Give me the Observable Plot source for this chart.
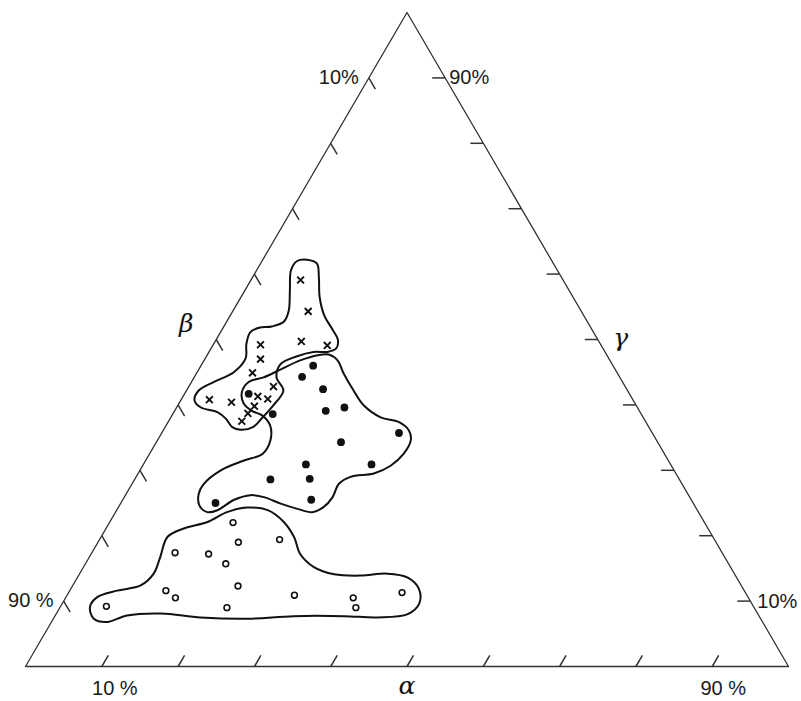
<!DOCTYPE html>
<html><head><meta charset="utf-8">
<script src="https://cdn.jsdelivr.net/npm/d3@7"></script>
<script src="https://cdn.jsdelivr.net/npm/@observablehq/plot@0.6"></script>
<style>html,body{margin:0;padding:0;background:#fff}</style>
</head><body><div id="chart"></div>
<script>
// Ternary components in percent: alpha (bottom-right vertex), gamma (top vertex); beta = 100 - alpha - gamma
const crossAlpha = [6.5, 9.9, 11.3, 15.0, 6.2, 7.3, 7.3, 11.1, 3.7, 6.8, 9.8, 11.3, 10.1, 9.8, 9.6];
const crossGamma = [59.1, 54.3, 49.7, 49.1, 49.2, 47.0, 44.9, 42.8, 40.8, 40.4, 41.3, 40.9, 39.8, 38.7, 37.5];
const dotAlpha = [8.4, 14.7, 14.1, 17.8, 19.8, 22.0, 13.1, 31.1, 24.2, 21.3, 29.9, 17.8, 22.9, 12.4, 24.7];
const dotGamma = [41.7, 46.0, 44.3, 42.4, 39.1, 39.6, 38.6, 35.7, 34.3, 30.9, 30.9, 28.6, 28.7, 25.0, 25.5];
const openAlpha = [16.2, 18.4, 23.6, 10.9, 15.4, 18.4, 21.7, 12.6, 14.4, 6.0, 21.9, 29.8, 37.7, 38.8, 43.7];
const openGamma = [22.0, 19.0, 19.4, 17.4, 17.2, 15.7, 12.3, 11.6, 10.5, 9.2, 9.0, 10.9, 10.5, 9.0, 11.3];

// Enclosing outlines, [alpha, gamma]
const crossOutline = [[5.8,62.2],[7.4,61.6],[8.7,59.5],[10.3,56.5],[12.3,53.7],[14.4,51.6],[16.0,49.9],[16.4,48.6],[15.5,48.1],[13.7,48.1],[11.8,47.4],[10.3,46.2],[10.8,44.2],[12.7,42.2],[12.5,39.9],[12.0,38.0],[11.5,36.6],[10.1,36.2],[8.8,36.6],[7.3,37.9],[5.7,38.9],[3.2,39.6],[1.8,40.7],[1.6,42.2],[2.9,43.5],[4.8,45.0],[5.3,47.1],[4.3,49.3],[3.9,51.1],[4.7,51.8],[6.3,52.0],[7.5,52.7],[7.3,54.4],[5.9,57.5],[4.5,60.6],[4.6,62.0]];
const dotOutline = [[15.9,47.7],[17.5,46.8],[19.3,44.8],[21.9,42.2],[24.4,39.9],[27.5,38.1],[30.2,37.4],[32.2,36.1],[33.2,34.6],[33.3,32.5],[32.5,30.7],[30.9,29.5],[28.1,29.0],[27.1,27.9],[27.3,25.9],[26.9,24.4],[25.8,23.6],[23.6,24.1],[21.0,24.9],[18.3,25.9],[16.4,26.2],[14.6,25.5],[13.2,23.9],[12.0,23.6],[10.5,24.6],[9.5,26.4],[9.4,27.9],[10.6,30.0],[12.9,31.5],[14.8,32.5],[14.8,34.6],[13.6,36.9],[11.8,38.4],[10.1,39.1],[8.5,40.2],[7.4,41.9],[7.5,43.5],[9.1,44.2],[10.7,45.4],[12.6,46.8],[14.5,47.6]];
const openOutline = [[16.9,24.3],[19.8,23.9],[22.8,22.1],[25.3,19.8],[27.4,17.2],[30.2,15.2],[33.4,14.1],[37.0,13.9],[40.3,14.2],[43.3,13.6],[45.6,11.9],[46.8,9.6],[46.1,8.0],[42.4,7.5],[37.9,7.7],[31.3,7.7],[25.4,7.3],[19.2,7.5],[13.7,8.1],[9.4,7.8],[7.3,6.8],[5.3,7.3],[3.9,9.1],[4.1,10.6],[6.2,11.6],[8.9,12.4],[9.7,14.2],[9.3,16.7],[8.7,19.8],[10.2,21.1],[12.8,22.1],[14.6,23.6]];

const tickValues = [10, 20, 30, 40, 50, 60, 70, 80, 90];
const axisNames = ["α", "β", "γ"];
const endLabels = ["10 %", "90 %"];

// ternary -> cartesian (data units: x along base 0..100, y = gamma 0..100)
const tx = (a, g) => a + g / 2;
const pts = (A, G) => A.map((a, i) => ({x: tx(a, G[i]), y: G[i]}));
const outline = (arr) => arr.map(([a, g]) => ({x: tx(a, g), y: g}));

const verts = [{x: 0, y: 0}, {x: 100, y: 0}, {x: 50, y: 100}];
const t = 1.7;
const ticks = [
  ...tickValues.map(v => ({x1: tx(v, 0), y1: 0, x2: tx(v, t), y2: t})),                 // alpha, bottom
  ...tickValues.map(v => ({x1: tx(0, 100 - v), y1: 100 - v, x2: tx(t, 100 - v - t), y2: 100 - v - t})), // beta, left
  ...tickValues.map(v => ({x1: tx(100 - v, v), y1: v, x2: tx(100 - v - t, v), y2: v}))  // gamma, right
];

const pctFont = "'Liberation Sans', Arial, sans-serif";
const labels = [
  {x: tx(10, 0), y: 0, text: endLabels[0], dx: 13, dy: 22, anchor: "middle"},
  {x: tx(90, 0), y: 0, text: endLabels[1], dx: 11, dy: 22, anchor: "middle"},
  {x: tx(0, 10), y: 10, text: endLabels[1], dx: -10, dy: -1, anchor: "end"},
  {x: tx(0, 90), y: 90, text: endLabels[0].replace(" ", ""), dx: -10, dy: 0, anchor: "end"},
  {x: tx(10, 90), y: 90, text: endLabels[1].replace(" ", ""), dx: 4, dy: 0, anchor: "start"},
  {x: tx(90, 10), y: 10, text: endLabels[0].replace(" ", ""), dx: 7, dy: 0, anchor: "start"}
];
const greek = [
  {x: tx(50, 0), y: 0, text: axisNames[0], dx: 0, dy: 19},
  {x: tx(0, 50), y: 50, text: axisNames[1], dx: -30, dy: -16},
  {x: tx(50, 50), y: 50, text: axisNames[2], dx: 23, dy: -2}
];

const chart = Plot.plot({
  width: 801, height: 701,
  marginLeft: 25, marginRight: 13, marginTop: 12, marginBottom: 35,
  x: {domain: [0, 100], axis: null},
  y: {domain: [0, 100], axis: null},
  style: {background: "#fff", overflow: "visible"},
  marks: [
    Plot.line(verts, {x: "x", y: "y", curve: "linear-closed", stroke: "#333", strokeWidth: 1.3}),
    Plot.link(ticks, {x1: "x1", y1: "y1", x2: "x2", y2: "y2", stroke: "#333", strokeWidth: 1.5}),
    Plot.line(outline(crossOutline), {x: "x", y: "y", curve: "catmull-rom-closed", stroke: "#111", strokeWidth: 2}),
    Plot.line(outline(dotOutline), {x: "x", y: "y", curve: "catmull-rom-closed", stroke: "#111", strokeWidth: 2}),
    Plot.line(outline(openOutline), {x: "x", y: "y", curve: "catmull-rom-closed", stroke: "#111", strokeWidth: 2}),
    Plot.dot(pts(crossAlpha, crossGamma), {x: "x", y: "y", symbol: "times", r: 3.2, stroke: "#111", strokeWidth: 1.9}),
    Plot.dot(pts(dotAlpha, dotGamma), {x: "x", y: "y", symbol: "circle", r: 3.9, fill: "#111", stroke: "none"}),
    Plot.dot(pts(openAlpha, openGamma), {x: "x", y: "y", symbol: "circle", r: 2.9, fill: "#fff", stroke: "#111", strokeWidth: 1.6}),
    ...labels.map(d => Plot.text([d], {x: "x", y: "y", text: "text", dx: d.dx, dy: d.dy, textAnchor: d.anchor, fontSize: 20, fontFamily: pctFont, fill: "#1a1a1a"})),
    ...greek.map(d => Plot.text([d], {x: "x", y: "y", text: "text", dx: d.dx, dy: d.dy, fontSize: 25, fontStyle: "italic", fontFamily: "'DejaVu Serif', serif", fill: "#111"}))
  ]
});
document.getElementById("chart").appendChild(chart);
</script>
</body></html>
